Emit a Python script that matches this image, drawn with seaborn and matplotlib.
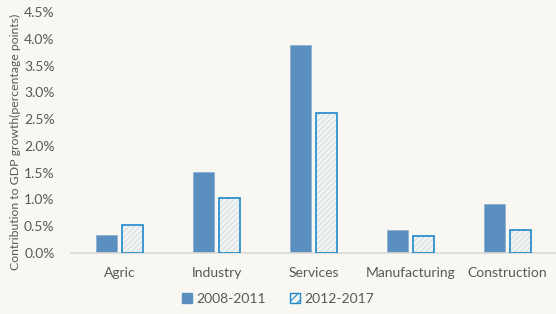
import matplotlib
matplotlib.use("Agg")
import matplotlib.pyplot as plt
import matplotlib.patches as mpatches
import seaborn as sns
import pandas as pd

# Data
sectors = ["Agric", "Industry", "Services", "Manufacturing", "Construction"]
period_a = [0.33, 1.51, 3.88, 0.43, 0.91]
period_b = [0.52, 1.03, 2.61, 0.32, 0.43]
periods = ["2008-2011", "2012-2017"]
yticks = [0.0, 0.5, 1.0, 1.5, 2.0, 2.5, 3.0, 3.5, 4.0, 4.5]

BG = "#F8F7F1"
BLUE = "#5B8FC0"
EDGE = "#1E88CC"
HATCH = "#D3DEE6"
TEXT = "#595959"

sns.set_style("white")
plt.rcParams["font.family"] = ["Lato", "DejaVu Sans"]
plt.rcParams["hatch.linewidth"] = 0.8

df = pd.DataFrame({
    "sector": sectors * 2,
    "value": period_a + period_b,
    "period": [periods[0]] * len(sectors) + [periods[1]] * len(sectors),
})

fig = plt.figure(figsize=(5.56, 3.14), dpi=100, facecolor=BG)
ax = fig.add_axes([0.128, 0.194, 0.872, 0.768], facecolor=BG)

sns.barplot(data=df, x="sector", y="value", hue="period", order=sectors,
            hue_order=periods, palette=[BLUE, BG], width=0.54, gap=0.18,
            legend=False, ax=ax, linewidth=0)

n = len(sectors)
for i, p in enumerate(ax.patches):
    if i < n:
        p.set_facecolor(BLUE)
        p.set_edgecolor("#8FB0D0")
        p.set_linewidth(0.6)
    else:
        p.set_facecolor("#F3F4F1")
        p.set_hatch("//////")
        p.set_edgecolor(HATCH)
        p.set_linewidth(0)
        outline = mpatches.Rectangle((p.get_x(), p.get_y()), p.get_width(), p.get_height(),
                                     fill=False, edgecolor=EDGE, linewidth=1.2, zorder=3)
        ax.add_patch(outline)

ax.set_ylim(0, 4.5)
ax.set_xlim(-0.5, n - 0.5)
ax.set_yticks(yticks)
ax.set_yticklabels([f"{v:.1f}%" for v in yticks])
ax.tick_params(axis="both", length=0, labelsize=10, labelcolor=TEXT)
ax.tick_params(axis="y", pad=12)
ax.tick_params(axis="x", pad=10)
ax.set_xlabel("")
ax.set_ylabel("Contribution to GDP growth(percentage points)", fontsize=8.8, color=TEXT)
ax.yaxis.set_label_coords(-0.104, 0.46)

for s in ["top", "right", "left"]:
    ax.spines[s].set_visible(False)
ax.spines["bottom"].set_color("#D9D9D9")
ax.spines["bottom"].set_linewidth(1.2)

handles = [
    mpatches.Patch(facecolor=BLUE, edgecolor=BLUE, label=periods[0]),
    mpatches.Patch(facecolor="#F3F4F1", edgecolor=EDGE, hatch="////", linewidth=1.0, label=periods[1]),
]
fig.legend(handles=handles, loc="lower center", bbox_to_anchor=(0.5, -0.01), ncol=2,
           frameon=False, fontsize=10, labelcolor=TEXT, handlelength=0.7,
           handleheight=0.7, handletextpad=0.3, columnspacing=1.8)

fig.savefig("out.png", dpi=100, facecolor=BG)
